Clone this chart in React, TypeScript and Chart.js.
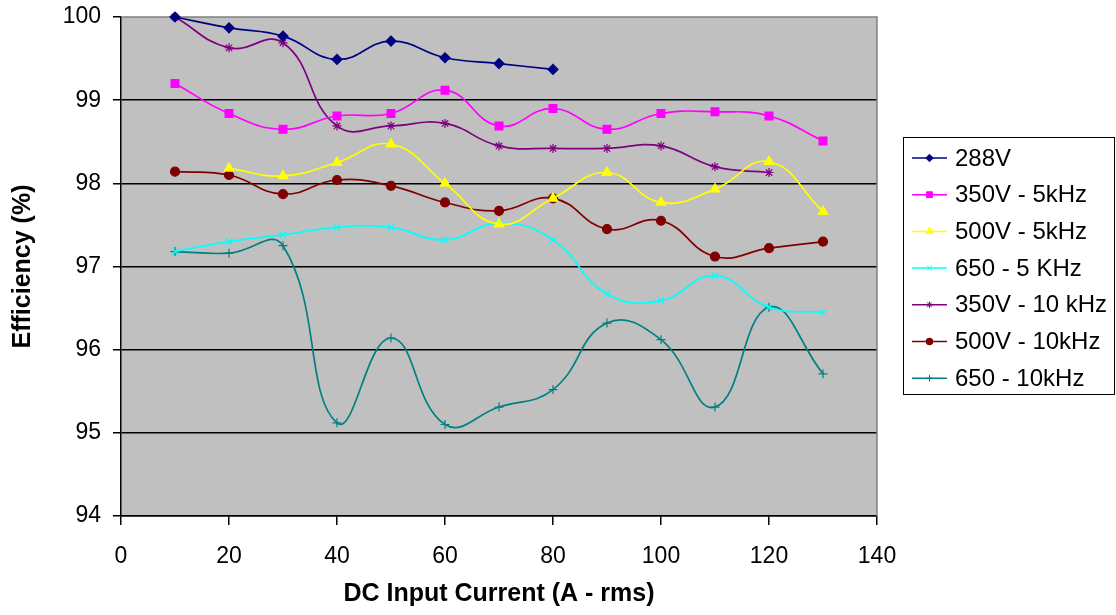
import React, { useEffect, useRef } from "react";
import { Chart, registerables } from "chart.js";
import { drawPoint } from "chart.js/helpers";

Chart.register(...registerables);

const currents = [10, 20, 30, 40, 50, 60, 70, 80, 90, 100, 110, 120, 130];
const xTicks = [0, 20, 40, 60, 80, 100, 120, 140];
const yTicks = [94, 95, 96, 97, 98, 99, 100];

const v288 = [100.0, 99.87, 99.77, 99.49, 99.71, 99.51, 99.44, 99.37, null, null, null, null, null];
const v350_5k = [99.2, 98.84, 98.65, 98.81, 98.84, 99.12, 98.69, 98.9, 98.65, 98.84, 98.86, 98.81, 98.51];
const v500_5k = [null, 98.18, 98.09, 98.25, 98.47, 98.0, 97.51, 97.82, 98.13, 97.77, 97.93, 98.26, 97.66];
const v650_5k = [97.18, 97.3, 97.38, 97.47, 97.47, 97.32, 97.52, 97.32, 96.67, 96.59, 96.89, 96.51, 96.45];
const v350_10k = [100.0, 99.63, 99.69, 98.69, 98.69, 98.72, 98.45, 98.42, 98.42, 98.45, 98.2, 98.13, null];
const v500_10k = [98.14, 98.1, 97.87, 98.04, 97.97, 97.77, 97.67, 97.82, 97.45, 97.55, 97.12, 97.22, 97.3];
const v650_10k = [97.18, 97.16, 97.25, 95.12, 96.14, 95.1, 95.31, 95.52, 96.32, 96.12, 95.31, 96.51, 95.71];

const seriesLabels = ["288V", "350V - 5kHz", "500V - 5kHz", "650 - 5 KHz", "350V - 10 kHz", "500V - 10kHz", "650 - 10kHz"];
const seriesValues = [v288, v350_5k, v500_5k, v650_5k, v350_10k, v500_10k, v650_10k];
const seriesColors = ["#000080", "#FF00FF", "#FFFF00", "#00FFFF", "#800080", "#800000", "#008080"];
const seriesMarkers = ["rectRot", "rect", "triangle", "crossRot", "star", "circle", "cross"];
const markerSizes = [5, 5.5, 5.5, 4.5, 4.5, 4.5, 4.5];

const FONT = "'Liberation Sans', Arial, sans-serif";

const toPoints = (vals: (number | null)[]) =>
  currents
    .map((c, i) => ({ x: c, y: vals[i] }))
    .filter((p) => p.y !== null && p.y !== undefined);

const bgPlugin = {
  id: "plotBg",
  beforeDraw(chart: any) {
    const { ctx, chartArea: a } = chart;
    ctx.save();
    ctx.fillStyle = "#C0C0C0";
    ctx.fillRect(a.left, a.top, a.right - a.left, a.bottom - a.top);
    ctx.restore();
  },
  beforeDatasetsDraw(chart: any) {
    const { ctx, chartArea: a } = chart;
    ctx.save();
    ctx.strokeStyle = "#808080";
    ctx.lineWidth = 1.5;
    ctx.beginPath();
    ctx.moveTo(a.left, a.top);
    ctx.lineTo(a.right, a.top);
    ctx.lineTo(a.right, a.bottom);
    ctx.stroke();
    ctx.restore();
  },
};

const legendPlugin = {
  id: "boxLegend",
  afterDraw(chart: any) {
    const { ctx, chartArea: a } = chart;
    const x0 = a.right + 26;
    const y0 = 137;
    const w = 211;
    const h = 257;
    const rowH = 36.7;
    ctx.save();
    ctx.fillStyle = "#ffffff";
    ctx.fillRect(x0, y0, w, h);
    ctx.strokeStyle = "#000000";
    ctx.lineWidth = 1;
    ctx.strokeRect(x0 + 0.5, y0 + 0.5, w, h);
    chart.data.datasets.forEach((ds: any, i: number) => {
      const cy = y0 + 21 + i * rowH;
      ctx.strokeStyle = ds.borderColor;
      ctx.lineWidth = 1.5;
      ctx.beginPath();
      ctx.moveTo(x0 + 9, cy);
      ctx.lineTo(x0 + 44, cy);
      ctx.stroke();
      ctx.fillStyle = ds.pointBackgroundColor;
      ctx.strokeStyle = ds.pointBorderColor;
      ctx.lineWidth = 1;
      drawPoint(ctx, { pointStyle: ds.pointStyle, radius: ds.pointRadius * 0.75, borderWidth: 1, rotation: 0 }, x0 + 26.5, cy);
      ctx.fillStyle = "#000";
      ctx.font = `24px ${FONT}`;
      ctx.textBaseline = "middle";
      ctx.textAlign = "left";
      ctx.fillText(ds.label, x0 + 52, cy + 1);
    });
    ctx.restore();
  },
};

export default function App() {
  const ref = useRef<HTMLCanvasElement | null>(null);

  useEffect(() => {
    document.body.style.margin = "0";
    const canvas = ref.current;
    if (!canvas) return;
    Chart.defaults.font.family = FONT;

    const datasets = seriesLabels.map((label, i) => ({
      label,
      data: toPoints(seriesValues[i]),
      borderColor: seriesColors[i],
      backgroundColor: seriesColors[i],
      pointBackgroundColor: seriesColors[i],
      pointBorderColor: seriesColors[i],
      pointStyle: seriesMarkers[i],
      pointRadius: markerSizes[i],
      pointBorderWidth: 1.2,
      borderWidth: 1.7,
      tension: 0.45,
      fill: false,
      clip: false as any,
    }));

    const chart = new Chart(canvas, {
      type: "line",
      data: { datasets },
      options: {
        animation: false,
        responsive: false,
        devicePixelRatio: 1,
        layout: { padding: { top: 17, right: 239, left: 0, bottom: 0 } },
        plugins: {
          legend: { display: false },
          tooltip: { enabled: false },
        },
        scales: {
          x: {
            type: "linear",
            min: xTicks[0],
            max: xTicks[xTicks.length - 1],
            afterBuildTicks: (s: any) => {
              s.ticks = xTicks.map((v) => ({ value: v }));
            },
            ticks: { color: "#000", font: { size: 23 }, padding: 18, maxRotation: 0, autoSkip: false },
            grid: { drawOnChartArea: false, drawTicks: true, tickLength: 9, tickColor: "#000", lineWidth: 1.5 },
            border: { display: true, color: "#000", width: 1.5 },
            title: {
              display: true,
              text: "DC Input Current (A - rms)",
              color: "#000",
              font: { size: 25, weight: "bold" },
              padding: { top: 0, bottom: 6 },
            },
            afterFit: (s: any) => {
              s.height = 99;
              s.paddingLeft = 0;
              s.paddingRight = 0;
            },
          },
          y: {
            type: "linear",
            min: yTicks[0],
            max: yTicks[yTicks.length - 1],
            afterBuildTicks: (s: any) => {
              s.ticks = yTicks.map((v) => ({ value: v }));
            },
            ticks: { color: "#000", font: { size: 23 }, padding: 12, autoSkip: false },
            grid: {
              color: (c: any) => (c.tick && c.tick.value === 100 ? "rgba(0,0,0,0)" : "#000"),
              lineWidth: 1.5,
              tickLength: 8,
              tickColor: "#000",
              drawTicks: true,
            },
            border: { display: true, color: "#000", width: 1.5 },
            title: {
              display: true,
              text: "Efficiency (%)",
              color: "#000",
              font: { size: 25, weight: "bold" },
              padding: { top: 8, bottom: 0 },
            },
            afterFit: (s: any) => {
              s.width = 121;
              s.paddingTop = 0;
              s.paddingBottom = 0;
            },
          },
        },
      },
      plugins: [bgPlugin, legendPlugin],
    });
    return () => chart.destroy();
  }, []);

  return <canvas ref={ref} width={1116} height={615} style={{ display: "block", width: 1116, height: 615 }} />;
}
